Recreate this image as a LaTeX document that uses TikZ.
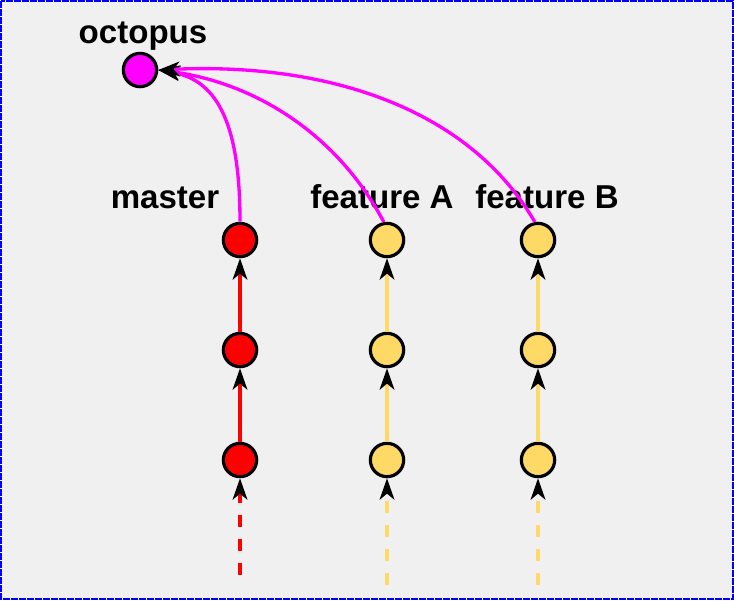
\documentclass[tikz,border=0pt]{standalone}
\usepackage{fontspec}
\setmainfont{Liberation Sans}
\usetikzlibrary{arrows.meta}

\definecolor{bgGrey}{RGB}{240,240,240}
\definecolor{frameBlue}{RGB}{0,0,255}
\definecolor{masterRed}{RGB}{255,0,0}
\definecolor{featYellow}{RGB}{255,217,102}
\definecolor{octoPink}{RGB}{255,0,255}

\tikzset{every picture/.style={line width=0.75pt}}
\tikzset{
  commit/.style={circle,draw=black,line width=2.4pt,minimum size=25pt,inner sep=0pt},
  branchlabel/.style={anchor=base,inner sep=0pt,font=\fontsize{24.8}{29}\selectfont\bfseries},
  parentline/.style={line width=2.5pt,-{Stealth[color=black,length=16pt,width=11pt,inset=4.5pt]}},
  tailline/.style={parentline,dash pattern=on 9pt off 9pt}
}

\begin{document}
\begin{tikzpicture}[x=0.75pt,y=0.75pt,yscale=-1,xscale=1]
%background and frame
\fill[bgGrey] (0,0) rectangle (734,600);
\draw[frameBlue,line width=1.5pt,dash pattern=on 5pt off 1pt] (1,1) rectangle (733,599);

% Commits
\node[commit,fill=octoPink] (octopus) at (140,70) {};
\node[commit,fill=masterRed] (master1) at (240,460) {};
\node[commit,fill=masterRed] (master2) at (240,350) {};
\node[commit,fill=masterRed] (master3) at (240,240) {};
\node[commit,fill=featYellow] (featA1) at (387,460) {};
\node[commit,fill=featYellow] (featA2) at (387,350) {};
\node[commit,fill=featYellow] (featA3) at (387,240) {};
\node[commit,fill=featYellow] (featB1) at (538,460) {};
\node[commit,fill=featYellow] (featB2) at (538,350) {};
\node[commit,fill=featYellow] (featB3) at (538,240) {};

% Text Node
\node[branchlabel] (octolabel) at (143,43) {octopus};
\node[branchlabel] (masterlabel) at (165,208) {master};
\node[branchlabel] (featAlabel) at (382,208) {feature A};
\node[branchlabel] (featBlabel) at (547,208) {feature B};

% Tails
\coordinate (master0) at (240,575);
\coordinate (featA0) at (387,585);
\coordinate (featB0) at (538,585);
\draw[tailline,masterRed] (master0) -- (master1);
\draw[tailline,featYellow] (featA0) -- (featA1);
\draw[tailline,featYellow] (featB0) -- (featB1);

% Connection
\draw[parentline,masterRed] (master1) -- (master2);
\draw[parentline,masterRed] (master2) -- (master3);
\draw[parentline,featYellow] (featA1) -- (featA2);
\draw[parentline,featYellow] (featA2) -- (featA3);
\draw[parentline,featYellow] (featB1) -- (featB2);
\draw[parentline,featYellow] (featB2) -- (featB3);

% Merge
\draw[parentline,octoPink] (master3.north) .. controls (240,125) and (218,80) .. (octopus.east);
\draw[parentline,octoPink] (featA3.100) .. controls (335,130) and (250,82) .. (octopus.east);
\draw[parentline,octoPink] (featB3.100) .. controls (470,110) and (330,62) .. (octopus.east);

\end{tikzpicture}
\end{document}
